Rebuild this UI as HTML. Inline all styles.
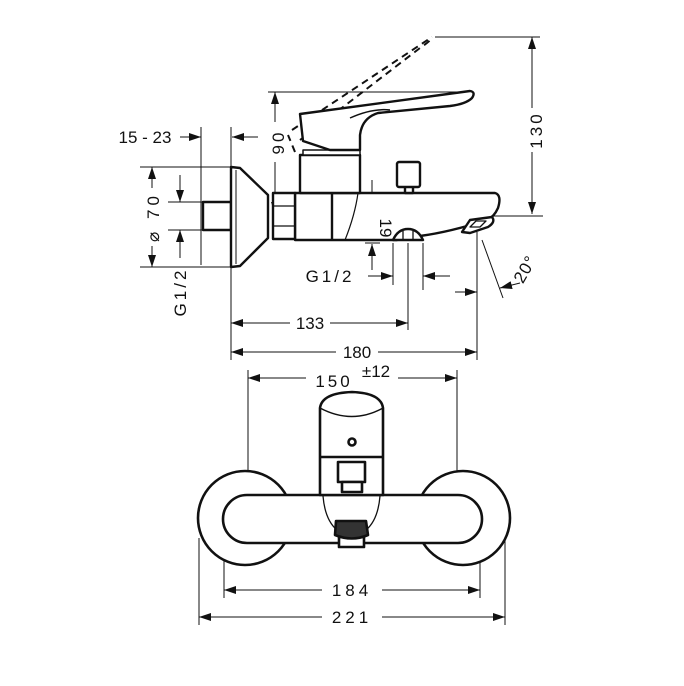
<!DOCTYPE html>
<html><head><meta charset="utf-8"><style>
html,body{margin:0;padding:0;background:#fff}
svg{display:block}
text{font-family:"Liberation Sans",sans-serif;font-size:17px;fill:#111}
</style></head><body>
<svg width="684" height="686" viewBox="0 0 684 686" xmlns="http://www.w3.org/2000/svg">
<defs>
<marker id="a" viewBox="0 0 12 8" refX="12" refY="4" markerWidth="12" markerHeight="8" markerUnits="userSpaceOnUse" orient="auto-start-reverse"><path d="M0,0 L12,4 L0,8 Z" fill="#111"/></marker>
</defs>
<g fill="none" stroke="#111" stroke-width="1">
<line x1="435" y1="37" x2="540" y2="37"/>
<line x1="400" y1="216" x2="543" y2="216"/>
<line x1="268" y1="92" x2="470" y2="92"/>
<line x1="201" y1="127" x2="201" y2="265"/>
<line x1="231" y1="127" x2="231" y2="360"/>
<line x1="140" y1="167" x2="231" y2="167"/>
<line x1="140" y1="267" x2="231" y2="267"/>
<line x1="168" y1="202" x2="202" y2="202"/>
<line x1="168" y1="230" x2="202" y2="230"/>
<line x1="393" y1="243" x2="393" y2="285"/>
<line x1="423" y1="243" x2="423" y2="290"/>
<line x1="408" y1="243" x2="408" y2="330"/>
<line x1="477" y1="232" x2="477" y2="360"/>
<line x1="482" y1="240" x2="503" y2="298"/>
<line x1="365" y1="243" x2="380" y2="243"/>
<line x1="532" y1="37" x2="532" y2="108" marker-start="url(#a)"/>
<line x1="532" y1="152" x2="532" y2="214" marker-end="url(#a)"/>
<line x1="275" y1="92" x2="275" y2="122" marker-start="url(#a)"/>
<line x1="275" y1="162" x2="275" y2="214" marker-end="url(#a)"/>
<line x1="372" y1="180" x2="372" y2="215" marker-end="url(#a)"/>
<line x1="372" y1="270" x2="372" y2="244" marker-end="url(#a)"/>
<line x1="180" x2="201" y1="137" y2="137" marker-end="url(#a)"/>
<line x1="258" x2="232" y1="137" y2="137" marker-end="url(#a)"/>
<line x1="152" y1="167" x2="152" y2="188" marker-start="url(#a)"/>
<line x1="152" y1="246" x2="152" y2="267" marker-end="url(#a)"/>
<line x1="180" y1="175" x2="180" y2="202" marker-end="url(#a)"/>
<line x1="180" y1="258" x2="180" y2="230" marker-end="url(#a)"/>
<line x1="368" y1="276" x2="393" y2="276" marker-end="url(#a)"/>
<line x1="450" y1="276" x2="423" y2="276" marker-end="url(#a)"/>
<line x1="455" y1="292" x2="477" y2="292" marker-end="url(#a)"/>
<line x1="520" y1="283" x2="500" y2="288" marker-end="url(#a)"/>
<line x1="231" y1="323" x2="290" y2="323" marker-start="url(#a)"/>
<line x1="330" y1="323" x2="408" y2="323" marker-end="url(#a)"/>
<line x1="231" y1="352" x2="336" y2="352" marker-start="url(#a)"/>
<line x1="378" y1="352" x2="477" y2="352" marker-end="url(#a)"/>
<line x1="248" y1="370" x2="248" y2="518"/>
<line x1="457" y1="370" x2="457" y2="518"/>
<line x1="248" y1="378" x2="306" y2="378" marker-start="url(#a)"/>
<line x1="398" y1="378" x2="457" y2="378" marker-end="url(#a)"/>
<line x1="224" y1="520" x2="224" y2="598"/>
<line x1="480" y1="520" x2="480" y2="598"/>
<line x1="199" y1="538" x2="199" y2="625"/>
<line x1="505" y1="538" x2="505" y2="625"/>
<line x1="224" y1="590" x2="322" y2="590" marker-start="url(#a)"/>
<line x1="382" y1="590" x2="480" y2="590" marker-end="url(#a)"/>
<line x1="199" y1="617" x2="322" y2="617" marker-start="url(#a)"/>
<line x1="382" y1="617" x2="505" y2="617" marker-end="url(#a)"/>
</g>
<g fill="none" stroke="#111" stroke-width="2" stroke-dasharray="7,5">
<path d="M292,130 L432,37"/>
<path d="M300,140 L420,48 Q432,40 432,37"/>
<path d="M295,152 L288,135"/>
</g>
<g fill="#fff" stroke="#111" stroke-width="2.4" stroke-linejoin="round">
<rect x="203" y="202" width="28" height="28"/>
<path d="M231,167 L240,168 L268,195 L268,238 L240,266 L231,267 Z"/>
<line x1="236" y1="170" x2="236" y2="264" stroke-width="1"/>
<path d="M295,193 L495,193 Q502,195 498,208 Q494,217 487,220 Q450,232 420,236 L397,240 L295,240 Z"/>
<line x1="332" y1="193" x2="332" y2="240"/>
<path d="M345,240 Q355,215 358,193" fill="none" stroke-width="1.2"/>
<rect x="273" y="193" width="22" height="46"/>
<line x1="273" y1="206" x2="295" y2="206" stroke-width="1.2"/>
<line x1="273" y1="226" x2="295" y2="226" stroke-width="1.2"/>
<rect x="300" y="155" width="60" height="38"/>
<rect x="303" y="150" width="57" height="5" stroke-width="1.5"/>
<path d="M300,114 L470,91 Q476,92 472,98 Q466,104 450,106 L378,113 Q362,118 360,135 L360,150 L330,150 L303,141 Z"/>
<path d="M350,118 Q372,108 390,110" fill="none" stroke-width="1.5"/>
<rect x="405" y="186" width="8" height="7"/>
<rect x="397" y="162" width="23" height="25" rx="2"/>
<path d="M393,240 Q398,229 408,229 Q418,229 423,240 Z"/>
<line x1="403" y1="231" x2="403" y2="240" stroke-width="1.3"/>
<line x1="413" y1="231" x2="413" y2="240" stroke-width="1.3"/>
<path d="M462,232 L470,220 L492,217 Q496,222 488,227 L470,233 Z"/>
<path d="M470,227 L476,221 L486,221 L480,227 Z" stroke-width="1.3"/>
</g>
<g fill="#fff" stroke="#111" stroke-width="2.6" stroke-linejoin="round">
<circle cx="245" cy="518" r="47"/>
<circle cx="463" cy="518" r="47"/>
<rect x="223" y="495" width="259" height="48" rx="24"/>
<path d="M320,495 L320,408 Q322,393 352,392 Q381,393 383,408 L383,495 Z"/>
<path d="M320,408 Q352,425 383,408" fill="none" stroke-width="1.5"/>
<line x1="320" y1="457" x2="383" y2="457"/>
<circle cx="352" cy="442" r="3.5"/>
<rect x="338" y="462" width="27" height="20"/>
<rect x="342" y="482" width="20" height="10"/>
<path d="M323,496 Q325,520 337,530 M380,496 Q378,520 366,530" fill="none" stroke-width="1.3"/>
<rect x="339" y="537" width="25" height="10"/>
<path d="M336,521 L366,521 L368,535 Q352,542 335,535 Z" fill="#333"/>
</g>
<text x="542" y="130" transform="rotate(-90 542 130)" text-anchor="middle" letter-spacing="3">130</text>
<text x="284" y="142" transform="rotate(-90 284 142)" text-anchor="middle" letter-spacing="3">90</text>
<text x="380" y="228" transform="rotate(90 380 228)" text-anchor="middle" font-size="15">19</text>
<text x="145" y="143" text-anchor="middle">15 - 23</text>
<text x="159" y="217" transform="rotate(-90 159 217)" text-anchor="middle" letter-spacing="4">⌀ 70</text>
<text x="186" y="292" transform="rotate(-90 186 292)" text-anchor="middle" letter-spacing="3">G1/2</text>
<text x="330" y="282" text-anchor="middle" letter-spacing="3">G1/2</text>
<text x="530" y="272" transform="rotate(-60 530 272)" text-anchor="middle" letter-spacing="1">20°</text>
<text x="310" y="329" text-anchor="middle">133</text>
<text x="357" y="358" text-anchor="middle">180</text>
<text x="334" y="387" text-anchor="middle" letter-spacing="3">150</text>
<text x="376" y="377" text-anchor="middle" font-size="11">±12</text>
<text x="352" y="596" text-anchor="middle" letter-spacing="4">184</text>
<text x="352" y="623" text-anchor="middle" letter-spacing="4">221</text>
</svg>
</body></html>
